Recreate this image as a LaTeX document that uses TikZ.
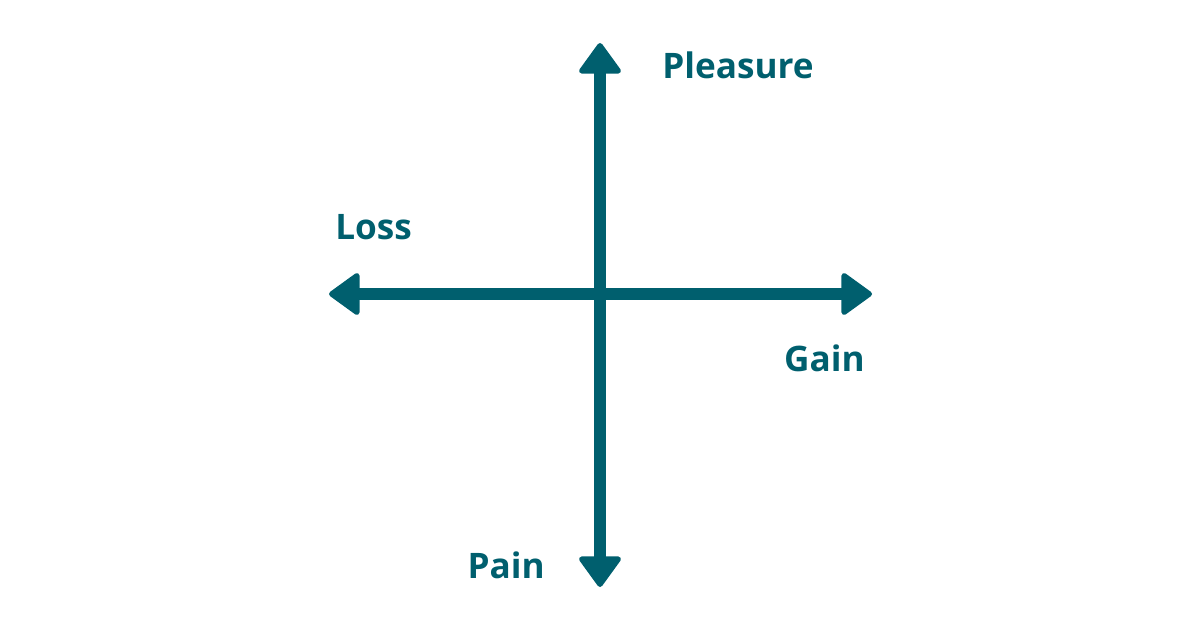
\documentclass[tikz,border=0pt]{standalone}
\usepackage{fontspec}
\setmainfont{Open Sans}
\usepackage{xcolor}
\definecolor{axisTeal}{HTML}{005F6E}
\usepackage{tikz}
\usetikzlibrary{arrows.meta, positioning}

\begin{document}
\begin{tikzpicture}[x=0.02cm, y=0.02cm,
    axisline/.style={axisTeal, line width=6.8pt, -{Triangle[length=18.5pt, width=26pt, line width=3pt, round]}},
    axislabel/.style={text=axisTeal, font=\bfseries\fontsize{20pt}{24pt}\selectfont, inner sep=0pt}]
    % ══ LIENZO ══
    \useasboundingbox (0,0) rectangle (1200,630);

    % ══ EJES ══
    \coordinate (O) at (600,336);
    \coordinate (Left) at (329,336);
    \coordinate (Right) at (872,336);
    \coordinate (Top) at (600,587);
    \coordinate (Bottom) at (600,43);

    % Eje horizontal
    \draw[axisline] (O) -- (Right);
    \draw[axisline] (O) -- (Left);

    % Eje vertical
    \draw[axisline] (O) -- (Top);
    \draw[axisline] (O) -- (Bottom);

    % ══ ETIQUETAS ══
    \node[axislabel, anchor=west] (pleasure) at (662,565) {Pleasure};
    \node[axislabel, anchor=west] (loss) at (335,403) {Loss};
    \node[axislabel, anchor=east] (gain) at (865,272) {Gain};
    \node[axislabel, anchor=east] (pain) at (545,65) {Pain};

\end{tikzpicture}
\end{document}
